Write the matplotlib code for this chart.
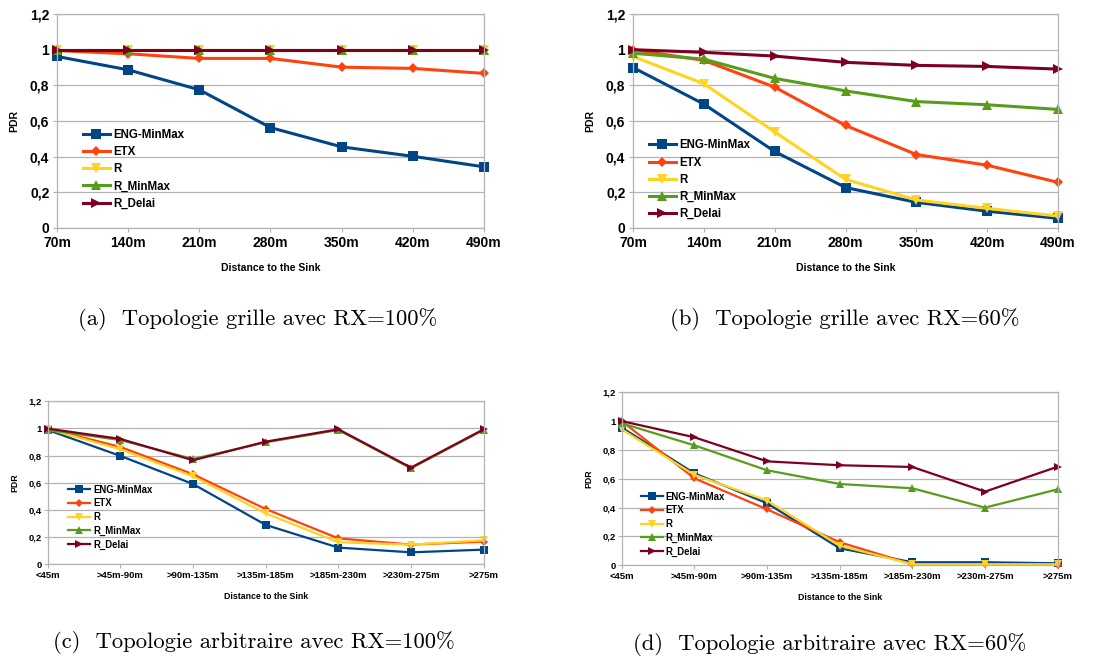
import matplotlib
matplotlib.use("Agg")
import matplotlib.pyplot as plt

# ---------------- data ----------------
series_names = ["ENG-MinMax", "ETX", "R", "R_MinMax", "R_Delai"]

grid_cats = ["70m", "140m", "210m", "280m", "350m", "420m", "490m"]
arb_cats = ["<45m", ">45m-90m", ">90m-135m", ">135m-185m", ">185m-230m", ">230m-275m", ">275m"]
y_ticks = [0, 0.2, 0.4, 0.6, 0.8, 1.0, 1.2]
y_tick_labels = ["0", "0,2", "0,4", "0,6", "0,8", "1", "1,2"]

# (a) grille RX=100%
a_eng = [0.962, 0.887, 0.775, 0.563, 0.455, 0.402, 0.343]
a_etx = [0.995, 0.977, 0.951, 0.951, 0.902, 0.895, 0.867]
a_r = [1.0, 1.0, 1.0, 1.0, 1.0, 1.0, 1.0]
a_rmm = [0.998, 0.998, 0.998, 0.998, 0.998, 0.998, 0.998]
a_rd = [1.0, 1.0, 1.0, 1.0, 1.0, 1.0, 1.0]

# (b) grille RX=60%
b_eng = [0.900, 0.695, 0.429, 0.227, 0.144, 0.094, 0.054]
b_etx = [1.0, 0.940, 0.790, 0.575, 0.412, 0.352, 0.256]
b_r = [0.962, 0.809, 0.539, 0.273, 0.157, 0.110, 0.067]
b_rmm = [0.980, 0.947, 0.839, 0.769, 0.709, 0.691, 0.665]
b_rd = [1.0, 0.985, 0.964, 0.929, 0.912, 0.906, 0.891]

# (c) arbitraire RX=100%
c_eng = [0.989, 0.798, 0.591, 0.290, 0.123, 0.088, 0.108]
c_etx = [0.999, 0.864, 0.663, 0.407, 0.191, 0.145, 0.167]
c_r = [0.996, 0.847, 0.648, 0.375, 0.162, 0.145, 0.177]
c_rmm = [0.989, 0.915, 0.775, 0.898, 0.989, 0.707, 0.989]
c_rd = [0.999, 0.923, 0.766, 0.903, 0.994, 0.712, 0.994]

# (d) arbitraire RX=60%
d_eng = [0.955, 0.638, 0.430, 0.118, 0.021, 0.021, 0.014]
d_etx = [1.0, 0.603, 0.388, 0.160, 0.007, 0.007, 0.005]
d_r = [0.943, 0.627, 0.449, 0.136, 0.007, 0.007, 0.007]
d_rmm = [0.985, 0.832, 0.659, 0.564, 0.534, 0.400, 0.527]
d_rd = [1.0, 0.888, 0.721, 0.694, 0.682, 0.511, 0.684]

captions = [
    "(a)  Topologie grille avec RX=100%",
    "(b)  Topologie grille avec RX=60%",
    "(c)  Topologie arbitraire avec RX=100%",
    "(d)  Topologie arbitraire avec RX=60%",
]

# ---------------- style ----------------
colors = ["#004586", "#ff420e", "#ffd320", "#579d1c", "#7e0021"]
markers = ["s", "D", "v", "^", ">"]
grid_col = "#b3b3b3"
FONT = "Liberation Sans"

fig = plt.figure(figsize=(11.02, 6.58), dpi=100)

panels = [
    dict(rect=[0.0517, 0.6535, 0.3875, 0.3252], cats=grid_cats,
         data=[a_eng, a_etx, a_r, a_rmm, a_rd], big=True,
         leg=(0.061, 0.463)),
    dict(rect=[0.5744, 0.6535, 0.3857, 0.3252], cats=grid_cats,
         data=[b_eng, b_etx, b_r, b_rmm, b_rd], big=True,
         leg=(0.038, 0.414)),
    dict(rect=[0.0433, 0.1424, 0.3956, 0.2477], cats=arb_cats,
         data=[c_eng, c_etx, c_r, c_rmm, c_rd], big=False,
         leg=(0.047, 0.488)),
    dict(rect=[0.5642, 0.1409, 0.3956, 0.2629], cats=arb_cats,
         data=[d_eng, d_etx, d_r, d_rmm, d_rd], big=False,
         leg=(0.044, 0.425)),
]

for p in panels:
    ax = fig.add_axes(p["rect"])
    big = p["big"]
    x = list(range(len(p["cats"])))
    lw = 2.2 if big else 1.6
    ms_base = 6.5 if big else 5.3
    for name, vals, c, m in zip(series_names, p["data"], colors, markers):
        ms = ms_base * (0.75 if m == "D" else 1.0)
        ax.plot(x, vals, color=c, marker=m, lw=lw, ms=ms, label=name,
                markeredgewidth=0, clip_on=False)
    ax.set_xlim(0, len(x) - 1)
    ax.set_ylim(0, 1.2)
    ax.set_yticks(y_ticks)
    ax.set_yticklabels(y_tick_labels)
    ax.set_xticks(x)
    ax.set_xticklabels(p["cats"])
    tick_fs = 10 if big else 6.8
    lab_fs = 7.5 if big else 6.3
    leg_fs = 8.3 if big else 6.9
    for lbl in ax.get_xticklabels() + ax.get_yticklabels():
        lbl.set_fontfamily(FONT)
        lbl.set_fontweight("bold")
        lbl.set_fontsize(tick_fs)
    ax.tick_params(axis="both", direction="out", length=3, width=0.8,
                   color=grid_col, pad=2.5 if big else 1.5)
    ax.yaxis.grid(True, color=grid_col, lw=0.9)
    ax.set_axisbelow(True)
    for s in ax.spines.values():
        s.set_color(grid_col)
        s.set_linewidth(0.9)
    ax.set_ylabel("PDR", fontfamily=FONT, fontweight="bold", fontsize=lab_fs,
                  labelpad=8 if big else 6)
    ax.set_xlabel("Distance to the Sink", fontfamily=FONT, fontweight="bold",
                  fontsize=lab_fs, labelpad=9.5 if big else 9)
    ax.legend(loc="upper left", bbox_to_anchor=p["leg"], frameon=False,
              prop=dict(family=FONT, weight="bold", size=leg_fs),
              handlelength=2.3, handletextpad=0.3,
              labelspacing=0.45 if big else 0.38,
              borderpad=0, borderaxespad=0)

# captions
cap_pos = [(0.2335, 0.5137), (0.767, 0.5137), (0.2305, 0.0243), (0.753, 0.0198)]
for txt, (cx, cy) in zip(captions, cap_pos):
    fig.text(cx, cy, txt, ha="center", va="center", fontfamily="cmr10", fontsize=16.3)

fig.savefig("out.png", dpi=100)
